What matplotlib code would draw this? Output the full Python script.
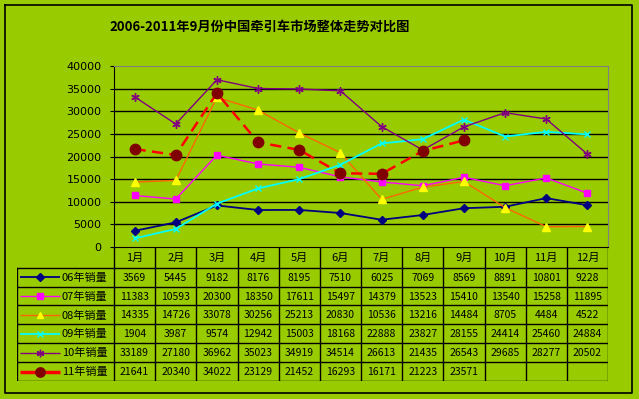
import matplotlib.pyplot as plt
import numpy as np

plt.rcParams['font.family'] = ['Noto Sans CJK SC', 'DejaVu Sans']

months = ['1月', '2月', '3月', '4月', '5月', '6月', '7月', '8月', '9月', '10月', '11月', '12月']
labels = ['06年销量', '07年销量', '08年销量', '09年销量', '10年销量', '11年销量']

s06 = [3569, 5445, 9182, 8176, 8195, 7510, 6025, 7069, 8569, 8891, 10801, 9228]
s07 = [11383, 10593, 20300, 18350, 17611, 15497, 14379, 13523, 15410, 13540, 15258, 11895]
s08 = [14335, 14726, 33078, 30256, 25213, 20830, 10536, 13216, 14484, 8705, 4484, 4522]
s09 = [1904, 3987, 9574, 12942, 15003, 18168, 22888, 23827, 28155, 24414, 25460, 24884]
s10 = [33189, 27180, 36962, 35023, 34919, 34514, 26613, 21435, 26543, 29685, 28277, 20502]
s11 = [21641, 20340, 34022, 23129, 21452, 16293, 16171, 21223, 23571]

yticks = [0, 5000, 10000, 15000, 20000, 25000, 30000, 35000, 40000]

BG = '#99CC00'
W, H = 639, 399

# series styles: line colour, marker, marker face, marker size, line width, dash
styles = [
    dict(color='#000080', marker='D', mfc='#000080', mec='#000080', ms=4.5, lw=1.3, ls='-'),
    dict(color='#FF00FF', marker='s', mfc='#FF00FF', mec='#FF00FF', ms=5, lw=1.0, ls='-'),
    dict(color='#FF6600', marker='^', mfc='#FFFF00', mec='#FFFF00', ms=5.5, lw=1.0, ls='-'),
    dict(color='#00FFFF', marker='x', mfc='#00FFFF', mec='#00FFFF', ms=5, lw=1.3, ls='-'),
    dict(color='#800080', marker=(6, 2, 0), mfc='#800080', mec='#800080', ms=6, lw=1.0, ls='-'),
    dict(color='#FF0000', marker='o', mfc='#800000', mec='#800000', ms=7.5, lw=1.8, ls=(0, (4.5, 2.5))),
]
series = [s06, s07, s08, s09, s10, s11]


def px(x0, y0, x1, y1):
    # pixel box (top-left origin) -> figure fraction rect
    return [x0 / W, 1 - y1 / H, (x1 - x0) / W, (y1 - y0) / H]


fig = plt.figure(figsize=(W / 100, H / 100), dpi=100, facecolor=BG)

# outer border
frame = fig.add_axes([0, 0, 1, 1])
frame.set_xlim(0, W)
frame.set_ylim(H, 0)
frame.axis('off')
frame.plot([5, 632, 632, 5, 5], [5, 5, 393, 393, 5], color='black', lw=1.2)
frame.text(260, 27, '2006-2011年9月份中国牵引车市场整体走势对比图', ha='center', va='center',
           fontsize=9.5, fontweight='bold')

# chart
left, right, top, bottom = 114, 608, 66, 247
ax = fig.add_axes(px(left, top, right, bottom))
ax.set_facecolor(BG)
x = np.arange(12) + 0.5
for s, st in zip(series, styles):
    ax.plot(x[:len(s)], s, color=st['color'], lw=st['lw'], ls=st['ls'], marker=st['marker'],
            mfc=st['mfc'], mec=st['mec'], ms=st['ms'], mew=1.0, zorder=3)
ax.set_xlim(0, 12)
ax.set_ylim(0, 40000)
ax.set_yticks(yticks)
ax.set_yticklabels([str(v) for v in yticks], fontsize=8, family='DejaVu Sans')
ax.tick_params(axis='y', length=3, pad=6)
ax.set_xticks([])
for v in yticks[1:-1]:
    ax.axhline(v, color='black', lw=1.0, zorder=1)
ax.spines['top'].set_color('#808080')
ax.spines['right'].set_color('#808080')
ax.spines['left'].set_color('black')
ax.spines['bottom'].set_color('black')

# data table below the chart
t_left, t_top, t_bottom = 17, 247, 381
row_top = 267.7
label_w = (left - t_left) / ((right - left) / 12)
tax = fig.add_axes(px(t_left, t_top, right, t_bottom))
tax.set_xlim(-label_w, 12)
tax.set_ylim(t_bottom, t_top)
tax.axis('off')
row_h = (t_bottom - row_top) / 6

for i, m in enumerate(months):
    tax.text(i + 0.5, (t_top + row_top) / 2 + 1, m, ha='center', va='center', fontsize=8)
for i in range(13):
    tax.plot([i, i], [t_top, t_bottom], color='black', lw=1.0)
tax.plot([-label_w, -label_w], [row_top, t_bottom], color='black', lw=1.0)
for r in range(7):
    yy = row_top + r * row_h
    tax.plot([-label_w, 12], [yy, yy], color='black', lw=1.0)

for r, (lab, s, st) in enumerate(zip(labels, series, styles)):
    yc = row_top + (r + 0.5) * row_h
    x0, x1 = -label_w + 0.08, -label_w + 1.05
    tax.plot([x0, x1], [yc, yc], color=st['color'], lw=st['lw'] if r < 5 else 2.5, solid_capstyle='butt')
    tax.plot([(x0 + x1) / 2], [yc], marker=st['marker'], mfc=st['mfc'], mec=st['mec'],
             ms=st['ms'] * 0.9, mew=1.0)
    tax.text(x1 + 0.04, yc + 0.5, lab, ha='left', va='center', fontsize=8)
    for i, v in enumerate(s):
        tax.text(i + 0.5, yc + 0.5, str(v), ha='center', va='center', fontsize=7.5)

fig.savefig('out.png', dpi=100, facecolor=BG)
